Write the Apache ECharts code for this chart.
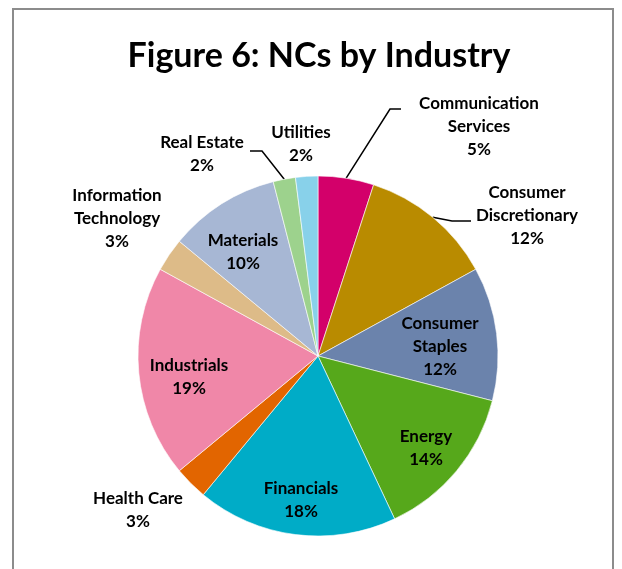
<!DOCTYPE html>
<html>
<head>
<meta charset="utf-8">
<script src="https://cdn.jsdelivr.net/npm/echarts@6/dist/echarts.min.js"></script>
<style>
  html, body { margin: 0; padding: 0; background: #fff; }
  #chart { width: 622px; height: 569px; }
</style>
</head>
<body>
<div id="chart"></div>
<script>
// Share of NCs by industry, clockwise from 12 o'clock
const industries = [
  'Communication Services', 'Consumer Discretionary', 'Consumer Staples', 'Energy',
  'Financials', 'Health Care', 'Industrials', 'Information Technology',
  'Materials', 'Real Estate', 'Utilities'
];
const shares = [5, 12, 12, 14, 18, 3, 19, 3, 10, 2, 2];
const sliceColors = [
  '#D3006A', '#B98B00', '#6B83AC', '#56A81B', '#00ACC7', '#E26500',
  '#F087A8', '#DDBB88', '#A7B7D4', '#9DD28D', '#88D1EA'
];

// Where each label block sits, and the elbows of the leader lines
const PIE_CENTER = [318, 356];
const PIE_RADIUS = 180;
const labelSpots = {
  'Communication Services': { x: 479, y: 127, lines: ['Communication', 'Services'] },
  'Consumer Discretionary': { x: 527, y: 216, lines: ['Consumer', 'Discretionary'] },
  'Consumer Staples':       { x: 440, y: 347, lines: ['Consumer', 'Staples'] },
  'Energy':                 { x: 426, y: 448, lines: ['Energy'] },
  'Financials':             { x: 301, y: 500, lines: ['Financials'] },
  'Health Care':            { x: 138, y: 510, lines: ['Health Care'] },
  'Industrials':            { x: 189, y: 377, lines: ['Industrials'] },
  'Information Technology': { x: 117, y: 219, lines: ['Information', 'Technology'] },
  'Materials':              { x: 243, y: 252, lines: ['Materials'] },
  'Real Estate':            { x: 202, y: 154, lines: ['Real Estate'] },
  'Utilities':              { x: 301, y: 144, lines: ['Utilities'] }
};
const leaders = {
  'Communication Services': [[390, 109], [401, 109]],
  'Consumer Discretionary': [[452, 221], [471, 221]],
  'Real Estate':            [[262, 151], [250, 151]]
};

const total = shares.reduce((a, b) => a + b, 0);
// Point on the rim at the middle of slice i
function rimPoint(i) {
  let before = 0;
  for (let k = 0; k < i; k++) before += shares[k];
  const frac = (before + shares[i] / 2) / total;
  const ang = frac * Math.PI * 2;
  return [PIE_CENTER[0] + PIE_RADIUS * Math.sin(ang), PIE_CENTER[1] - PIE_RADIUS * Math.cos(ang)];
}

const pieData = industries.map((name, i) => ({
  name: name,
  value: shares[i],
  itemStyle: { color: sliceColors[i] },
  labelLine: { show: !!leaders[name] }
}));

const chart = echarts.init(document.getElementById('chart'), null, { renderer: 'canvas' });
chart.setOption({
  backgroundColor: '#ffffff',
  animation: false,
  title: {
    text: 'Figure 6: NCs by Industry',
    left: 314,
    top: 51,
    textAlign: 'center',
    textVerticalAlign: 'middle',
    textStyle: {
      fontFamily: 'Lato',
      fontWeight: 'bold',
      fontSize: 34,
      color: '#000'
    }
  },
  graphic: [{
    type: 'rect',
    shape: { x: 13, y: 9, width: 600, height: 600 },
    style: { fill: null, stroke: '#8c8c8c', lineWidth: 2 },
    silent: true,
    z: -1
  }],
  series: [{
    type: 'pie',
    center: PIE_CENTER,
    radius: PIE_RADIUS,
    startAngle: 90,
    clockwise: true,
    avoidLabelOverlap: false,
    itemStyle: { borderColor: '#ffffff', borderWidth: 0.6 },
    label: {
      show: true,
      position: 'outside',
      fontFamily: 'Lato',
      fontWeight: 'bold',
      fontSize: 17,
      lineHeight: 23,
      color: '#000',
      align: 'center',
      formatter: p => labelSpots[p.name].lines.concat([p.value + '%']).join('\n')
    },
    labelLine: {
      show: true,
      lineStyle: { color: '#000', width: 1.5 }
    },
    labelLayout: function (params) {
      const name = industries[params.dataIndex];
      const spot = labelSpots[name];
      const out = { x: spot.x, y: spot.y, align: 'center', verticalAlign: 'middle' };
      if (leaders[name]) {
        out.labelLinePoints = [rimPoint(params.dataIndex)].concat(leaders[name]);
      }
      return out;
    },
    data: pieData
  }]
});
</script>
</body>
</html>
